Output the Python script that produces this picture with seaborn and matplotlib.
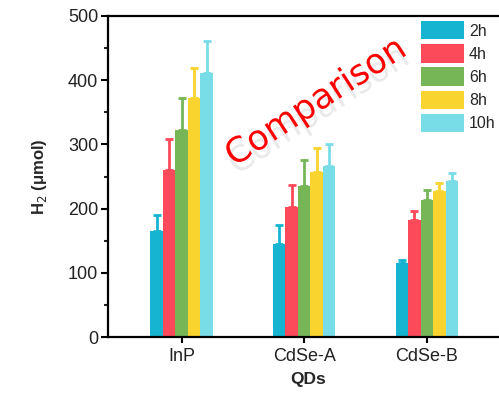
import matplotlib
matplotlib.use("Agg")
import matplotlib.pyplot as plt
import matplotlib.patheffects as pe
from matplotlib.ticker import MultipleLocator
import seaborn as sns
import pandas as pd

categories = ["InP", "CdSe-A", "CdSe-B"]
hours = ["2h", "4h", "6h", "8h", "10h"]
values_InP = [165, 260, 323, 373, 411]
values_CdSeA = [145, 202, 235, 257, 267]
values_CdSeB = [115, 183, 213, 228, 243]
err_InP = [25, 48, 49, 46, 50]
err_CdSeA = [30, 34, 40, 38, 33]
err_CdSeB = [5, 14, 16, 12, 12]
colors = ["#17b4d1", "#fc4a5a", "#76b657", "#f9d42e", "#79dde8"]

vals = {"InP": values_InP, "CdSe-A": values_CdSeA, "CdSe-B": values_CdSeB}
errs = {"InP": err_InP, "CdSe-A": err_CdSeA, "CdSe-B": err_CdSeB}
rows = []
for c in categories:
    for h, v, e in zip(hours, vals[c], errs[c]):
        rows.append({"QDs": c, "time": h, "H2": v, "err": e})
df = pd.DataFrame(rows)

sns.set_theme(style="ticks")
plt.rcParams["font.family"] = ["Liberation Sans", "DejaVu Sans"]

fig = plt.figure(figsize=(4.99, 4.0), dpi=100)
ax = fig.add_axes([108 / 499, 63 / 400, 1.02 - 108 / 499, 321 / 400])

sns.barplot(data=df, x="QDs", y="H2", hue="time", order=categories,
            hue_order=hours, palette=colors, width=0.51, gap=0,
            errorbar=None, saturation=1, ax=ax, edgecolor="none", legend=True)

# error bars (upper only), in the bar colour
for i, h in enumerate(hours):
    for j, c in enumerate(categories):
        patch = ax.patches[i * len(categories) + j]
        x = patch.get_x() + patch.get_width() / 2
        top = patch.get_height()
        e = errs[c][i]
        ax.errorbar([x], [top], yerr=[[0], [e]], fmt="none", ecolor=colors[i],
                    elinewidth=2, capsize=3, capthick=2, zorder=1)

ax.set_xlim(-0.6, 2.67)
ax.set_ylim(0, 500)
ax.yaxis.set_major_locator(MultipleLocator(100))
ax.yaxis.set_minor_locator(MultipleLocator(50))
ax.tick_params(axis="y", which="major", length=5, width=1.5, labelsize=13, colors="black", direction="out", pad=2)
ax.tick_params(axis="y", which="minor", length=3, width=1.5, direction="out")
ax.tick_params(axis="x", which="major", length=4, width=1.5, labelsize=13, colors="black", pad=4)
for s in ["left", "bottom", "top", "right"]:
    ax.spines[s].set_visible(True)
    ax.spines[s].set_linewidth(1.6)
    ax.spines[s].set_color("black")
for lab in ax.get_yticklabels() + ax.get_xticklabels():
    lab.set_color("#222222")

ax.set_xlabel("QDs", fontsize=12.5, fontweight="bold", labelpad=5)
ax.set_ylabel("H$_2$ (μmol)", fontsize=12, fontweight="bold", labelpad=14)

leg = ax.legend(loc="upper left", bbox_to_anchor=(421 / 499, 379 / 400),
                bbox_transform=fig.transFigure, frameon=False, fontsize=11.5,
                handlelength=2.7, handleheight=1.4, labelspacing=0.3,
                handletextpad=0.3, borderpad=0, borderaxespad=0)

fig.text(316, 298, "Comparison", transform=None, fontsize=25, color="red",
         family="DejaVu Sans", rotation=33, ha="center", va="center",
         rotation_mode="anchor",
         path_effects=[pe.withSimplePatchShadow(offset=(2, -6), shadow_rgbFace="#999999", alpha=0.2)])

fig.savefig("out.png", dpi=100)
